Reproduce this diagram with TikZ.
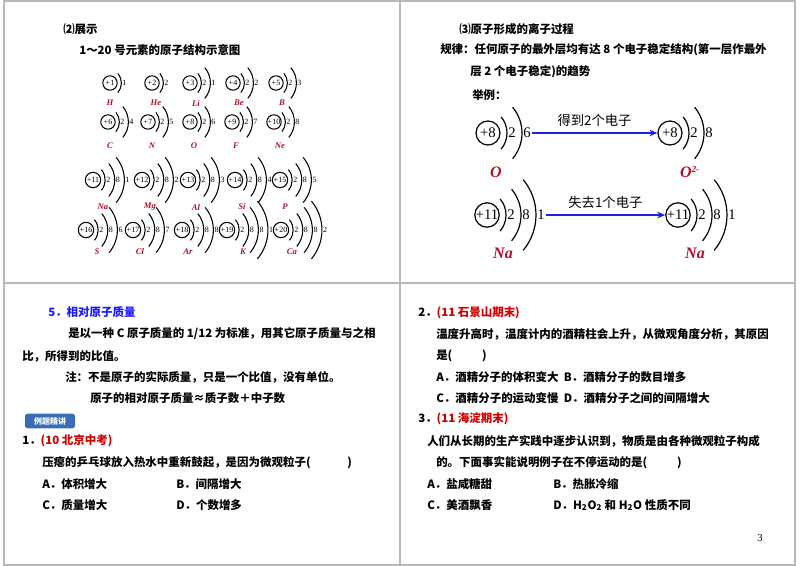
\documentclass[tikz,border=0pt]{standalone}
\usepackage{fontspec}
\setmainfont{Liberation Serif}
\newfontfamily\cjk{Noto Sans CJK SC}
\usetikzlibrary{arrows.meta}
\definecolor{elred}{HTML}{B0102A}
\definecolor{qred}{HTML}{D00000}
\definecolor{tblue}{HTML}{1A1AFF}
\definecolor{abl}{HTML}{1F1FE6}
\definecolor{badge}{HTML}{3A6DB5}
\tikzset{
 txt/.style={anchor=west,inner sep=0,font=\cjk\bfseries\fontsize{8.6}{10}\selectfont},
 elab/.style={inner sep=0,text=elred,font=\bfseries\itshape\fontsize{6.5}{7}\selectfont},
 bigel/.style={inner sep=0,text=elred,font=\bfseries\itshape\fontsize{12}{13}\selectfont},
 frame/.style={draw=black!28,line width=1pt},
 conv/.style={draw=abl,line width=1.3pt,-{Stealth[length=6pt,width=5pt]}},
}
% name, x, y, charge, list, scale, font, line width
\newcommand\atomdraw[8]{%
\begin{scope}[shift={(#2,#3)},scale=#6,line width=#8]
\node[draw,circle,inner sep=0,minimum size={18pt*#6},font=#7] (#1-n) at (0,0) {+#4};
\foreach \e [count=\k] in {#5}{
 \pgfmathsetmacro\R{25+15*(\k-1)}
 \draw ({-6+\R*cos(40)},{\R*sin(40)}) arc[start angle=40,end angle=-40,radius=\R];
 \node[font=#7,inner sep=0.3pt] (#1-\k) at ({\R-6+5},0) {\e};
}
\end{scope}}
\newcommand\sma[5]{\atomdraw{#1}{#2}{#3}{#4}{#5}{0.6}{\fontsize{6}{7}\selectfont}{0.8pt}}
\newcommand\mda[5]{\atomdraw{#1}{#2}{#3}{#4}{#5}{0.64}{\fontsize{6}{7}\selectfont}{0.8pt}}
\newcommand\bga[5]{\atomdraw{#1}{#2}{#3}{#4}{#5}{1}{\fontsize{11}{12}\selectfont}{0.9pt}}
\begin{document}
\begin{tikzpicture}[x=0.75pt,y=-0.75pt]
\useasboundingbox (0,0) rectangle (800,566);
\draw[frame] (4,1) rectangle (795,565);
\draw[frame] (400,1) -- (400,565);
\draw[frame] (4,283) -- (795,283);

% ---- top left
\node[txt] (t1) at (63,29) {⑵展示};
\node[txt] (t2) at (79,50) {1～20 号元素的原子结构示意图};
\sma{H}{110}{83}{1}{1}
\sma{He}{152}{83}{2}{2}
\sma{Li}{190}{83}{3}{2,1}
\sma{Be}{233}{83}{4}{2,2}
\sma{B}{276}{83}{5}{2,3}
\sma{C}{108}{122}{6}{2,4}
\sma{N}{148}{122}{7}{2,5}
\sma{O}{190}{122}{8}{2,6}
\sma{F}{232}{122}{9}{2,7}
\sma{Ne}{274}{122}{10}{2,8}
\node[elab] (lH) at (110,103) {H};
\node[elab] (lHe) at (156,103) {He};
\node[elab] (lLi) at (196,103) {Li};
\node[elab] (lBe) at (239,103) {Be};
\node[elab] (lB) at (282,103) {B};
\node[elab] (lC) at (110,146) {C};
\node[elab] (lN) at (152,146) {N};
\node[elab] (lO) at (194,146) {O};
\node[elab] (lF) at (236,146) {F};
\node[elab] (lNe) at (280,146) {Ne};
\mda{Na}{93}{180}{11}{2,8,1}
\mda{Mg}{142}{180}{12}{2,8,2}
\mda{Al}{188}{180}{13}{2,8,3}
\mda{Si}{235}{180}{14}{2,8,4}
\mda{P}{280}{180}{15}{2,8,5}
\mda{S}{86}{230}{16}{2,8,6}
\mda{Cl}{133}{230}{17}{2,8,7}
\mda{Ar}{182}{230}{18}{2,8,8}
\mda{K}{227}{230}{19}{2,8,8,1}
\mda{Ca}{281}{230}{20}{2,8,8,2}
\node[elab] (lNa) at (103,207) {Na};
\node[elab] (lMg) at (150,207) {Mg};
\node[elab] (lAl) at (196,207) {Al};
\node[elab] (lSi) at (242,207) {Si};
\node[elab] (lP) at (285,207) {P};
\node[elab] (lS) at (97,252) {S};
\node[elab] (lCl) at (140,252) {Cl};
\node[elab] (lAr) at (188,252) {Ar};
\node[elab] (lK) at (243,252) {K};
\node[elab] (lCa) at (292,252) {Ca};

% ---- top right
\node[txt] (r1) at (459,29) {⑶原子形成的离子过程};
\node[txt] (r2) at (440,50) {规律：任何原子的最外层均有达 8 个电子稳定结构(第一层作最外};
\node[txt] (r3) at (470,72) {层 2 个电子稳定)的趋势};
\node[txt] (r4) at (472,95) {举例：};
\bga{Oa}{488}{133}{8}{2,6}
\bga{Ob}{670}{133}{8}{2,8}
\bga{Naa}{487}{215}{11}{2,8,1}
\bga{Nab}{678}{215}{11}{2,8,1}
\draw[conv] (Oa-2.east) -- (Ob-n.west) node[midway,above=1pt,font=\cjk\fontsize{10}{11}\selectfont] (g1) {得到2个电子};
\draw[conv] (Naa-3.east) -- (Nab-n.west) node[midway,above=1pt,font=\cjk\fontsize{10}{11}\selectfont] (g2) {失去1个电子};
\node[bigel] (bO) at (496,172) {O};
\node[bigel] (bO2) at (690,172) {O\textsuperscript{\fontsize{7}{8}\selectfont 2-}};
\node[bigel] (bNa) at (503,253) {Na};
\node[bigel] (bNa2) at (695,253) {Na};

% ---- bottom left
\node[txt,text=tblue] (b1) at (48,312) {5．相对原子质量};
\node[txt] (b2) at (68,334) {是以一种 C 原子质量的 1/12 为标准，用其它原子质量与之相};
\node[txt] (b3) at (22,356) {比，所得到的比值。};
\node[txt] (b4) at (65,377) {注：不是原子的实际质量，只是一个比值，没有单位。};
\node[txt] (b5) at (90,398) {原子的相对原子质量≈质子数＋中子数};
\node[fill=badge,rounded corners=2pt,minimum width=37.5pt,minimum height=11pt,inner sep=0,text=white,font=\cjk\bfseries\fontsize{6}{7}\selectfont] (badge) at (50,421) {例题精讲};
\node[txt] (q1) at (22,441) {1．\textcolor{qred}{(10 北京中考)}};
\node[txt] (q1a) at (42,463) {压瘪的乒乓球放入热水中重新鼓起，是因为微观粒子(\hspace{3.2em})};
\node[txt] (q1A) at (42,484) {A．体积增大};
\node[txt] (q1B) at (176,484) {B．间隔增大};
\node[txt] (q1C) at (42,505) {C．质量增大};
\node[txt] (q1D) at (176,505) {D．个数增多};

% ---- bottom right
\node[txt] (q2) at (418,313) {2．\textcolor{qred}{(11 石景山期末)}};
\node[txt] (q2a) at (436,334) {温度升高时，温度计内的酒精柱会上升，从微观角度分析，其原因};
\node[txt] (q2b) at (436,356) {是(\hspace{2.6em})};
\node[txt] (q2A) at (436,377) {A．酒精分子的体积变大\ \ B．酒精分子的数目增多};
\node[txt] (q2C) at (436,398) {C．酒精分子的运动变慢\ \ D．酒精分子之间的间隔增大};
\node[txt] (q3) at (418,419) {3．\textcolor{qred}{(11 海淀期末)}};
\node[txt] (q3a) at (427,441) {人们从长期的生产实践中逐步认识到，物质是由各种微观粒子构成};
\node[txt] (q3b) at (436,463) {的。下面事实能说明例子在不停运动的是(\hspace{2.6em})};
\node[txt] (q3A) at (427,484) {A．盐咸糖甜};
\node[txt] (q3B) at (553,484) {B．热胀冷缩};
\node[txt] (q3C) at (427,505) {C．美酒飘香};
\node[txt] (q3D) at (553,505) {D．H\textsubscript{2}O\textsubscript{2} 和 H\textsubscript{2}O 性质不同};
\node[font=\fontsize{8}{9}\selectfont] (pg) at (760,538) {3};
\end{tikzpicture}
\end{document}
